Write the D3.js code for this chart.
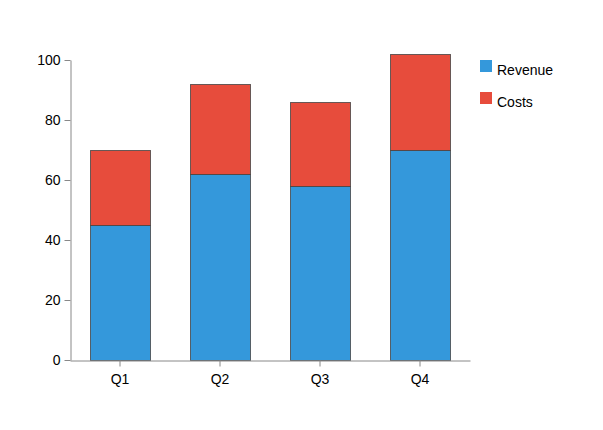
<!DOCTYPE html>
<html>
<head>
<meta charset="utf-8">
<script src="https://cdn.jsdelivr.net/npm/d3@7"></script>
<style>
  body { margin: 0; background: #fff; }
  text { font-family: "Liberation Sans", Arial, sans-serif; fill: #000; }
</style>
</head>
<body>
<div id="chart"></div>
<script>
var quarters = ['Q1', 'Q2', 'Q3', 'Q4'];
var revenue = [45, 62, 58, 70];
var costs = [25, 30, 28, 32];
var seriesNames = ['Revenue', 'Costs'];
var seriesColors = ['#3498db', '#e74c3c'];
var yTicks = [0, 20, 40, 60, 80, 100];

var width = 603, height = 430;
var margin = {top: 60, left: 70, chartW: 400, chartH: 300};

var svg = d3.select('#chart').append('svg')
  .attr('width', width)
  .attr('height', height);

var rows = quarters.map(function (q, i) {
  return {q: q, Revenue: revenue[i], Costs: costs[i]};
});
var stacked = d3.stack().keys(seriesNames)(rows);

var x = d3.scaleBand()
  .domain(quarters)
  .range([0, margin.chartW])
  .paddingInner(0.4)
  .paddingOuter(0.2);

var y = d3.scaleLinear()
  .domain([0, 100])
  .range([margin.chartH, 0]);

var g = svg.append('g')
  .attr('transform', 'translate(' + margin.left + ',' + margin.top + ')');

// bars
g.selectAll('.series')
  .data(stacked)
  .enter().append('g')
  .attr('class', 'series')
  .attr('fill', function (d, i) { return seriesColors[i]; })
  .selectAll('rect')
  .data(function (d) { return d; })
  .enter().append('rect')
  .attr('x', function (d) { return x(d.data.q) + 0.5; })
  .attr('y', function (d) { return Math.round(y(d[1])) + 0.5; })
  .attr('width', x.bandwidth())
  .attr('height', function (d) { return y(d[0]) - y(d[1]); })
  .attr('stroke', '#444')
  .attr('stroke-opacity', 0.8)
  .attr('stroke-width', 1);

// axes
var yAxis = g.append('g')
  .attr('transform', 'translate(0.5,0)')
  .call(d3.axisLeft(y).tickValues(yTicks).tickSize(6).tickSizeOuter(0).tickPadding(4));

var xAxis = g.append('g')
  .attr('transform', 'translate(0,' + (margin.chartH + 0.5) + ')')
  .call(d3.axisBottom(x).tickSize(6).tickSizeOuter(0).tickPadding(8));

[yAxis, xAxis].forEach(function (a) {
  a.select('.domain').attr('stroke', '#888');
  a.selectAll('.tick line').attr('stroke', '#888');
  a.selectAll('.tick text')
    .attr('font-size', 14)
    .attr('font-family', '"Liberation Sans", Arial, sans-serif')
    .attr('fill', '#000');
});

// legend
var legend = svg.append('g')
  .attr('transform', 'translate(480,60)');

var item = legend.selectAll('.item')
  .data(seriesNames)
  .enter().append('g')
  .attr('class', 'item')
  .attr('transform', function (d, i) { return 'translate(0,' + (i * 32) + ')'; });

item.append('rect')
  .attr('width', 12)
  .attr('height', 12)
  .attr('fill', function (d, i) { return seriesColors[i]; });

item.append('text')
  .attr('x', 17)
  .attr('y', 15)
  .attr('font-size', 14)
  .text(function (d) { return d; });
</script>
</body>
</html>
